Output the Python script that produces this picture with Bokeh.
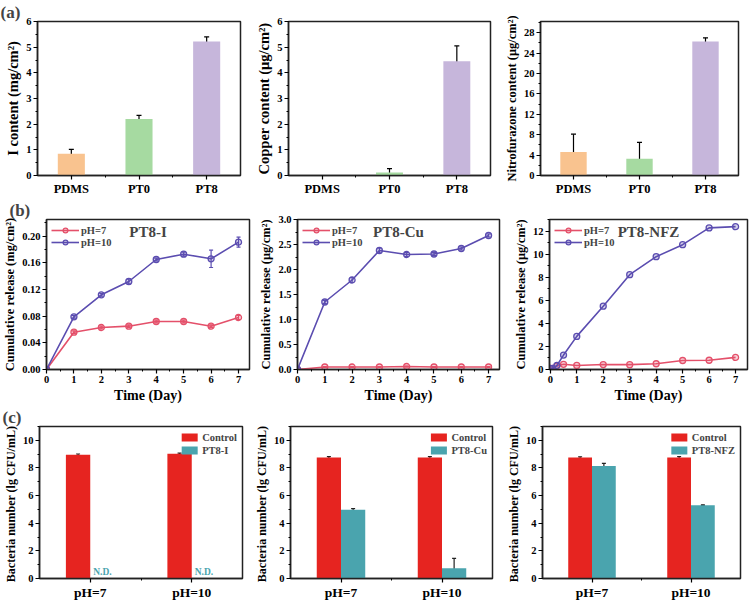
import numpy as np
from bokeh.plotting import figure
from bokeh.layouts import column, row
from bokeh.models import (Range1d, FixedTicker, Label, Whisker, TeeHead,
                          ColumnDataSource, PrintfTickFormatter)
from bokeh.embed import file_html
from bokeh.resources import INLINE

# ---------------- data (a) ----------------
samples = ["PDMS", "PT0", "PT8"]
iodine = [0.85, 2.20, 5.22]
iodine_err = [0.17, 0.14, 0.18]
copper = [0.0, 0.12, 4.45]
copper_err = [0.0, 0.15, 0.60]
nfz = [4.6, 3.3, 26.3]
nfz_err = [3.5, 3.2, 0.7]
sample_colors = ["#F9C38F", "#A6DAA1", "#C6B6DB"]

# ---------------- data (b) ----------------
days = [0, 1, 2, 3, 4, 5, 6, 7]
i_ph7 = [0, 0.056, 0.063, 0.065, 0.072, 0.072, 0.065, 0.078]
i_ph7_err = [0, 0.002, 0.002, 0.002, 0.002, 0.002, 0.002, 0.003]
i_ph10 = [0, 0.079, 0.112, 0.132, 0.165, 0.173, 0.166, 0.191]
i_ph10_err = [0, 0.002, 0.002, 0.004, 0.002, 0.003, 0.013, 0.0075]
cu_ph7 = [0, 0.05, 0.05, 0.05, 0.06, 0.05, 0.05, 0.05]
cu_ph7_err = [0, 0.01, 0.01, 0.01, 0.01, 0.01, 0.01, 0.01]
cu_ph10 = [0, 1.35, 1.79, 2.38, 2.30, 2.31, 2.42, 2.68]
cu_ph10_err = [0, 0.03, 0.05, 0.05, 0.04, 0.03, 0.03, 0.03]
nfz_days = [0, 0.083, 0.25, 0.5, 1, 2, 3, 4, 5, 6, 7]
nfz_ph7 = [0.1, 0.1, 0.3, 0.45, 0.35, 0.43, 0.42, 0.5, 0.78, 0.8, 1.05]
nfz_ph10 = [0.1, 0.1, 0.35, 1.25, 2.87, 5.49, 8.22, 9.78, 10.82, 12.27, 12.38]
series_names = ["pH=7", "pH=10"]
series_colors = ["#E4506A", "#5B4DB0"]

# ---------------- data (c) ----------------
groups = ["pH=7", "pH=10"]
ctrl_I = [8.95, 9.02]
ctrl_I_err = [0.06, 0.06]
pt8_I = [0.0, 0.0]
pt8_I_detected = [False, False]
ctrl_Cu = [8.75, 8.75]
ctrl_Cu_err = [0.07, 0.07]
pt8_Cu = [4.97, 0.75]
pt8_Cu_err = [0.08, 0.70]
ctrl_NFZ = [8.75, 8.75]
ctrl_NFZ_err = [0.06, 0.07]
pt8_NFZ = [8.15, 5.30]
pt8_NFZ_err = [0.18, 0.03]
bar_colors = ["#E62420", "#4AA4AE"]
panel_letters = ["(a)", "(b)", "(c)"]

FONT = "Liberation Serif"
FW = [203, 202, 198]
BL = [37, 46, 48]
BR = 2
FH = [154, 150, 152]
BT = [20, 20, 20]
BB = [18, 34, 20]


def base_fig(ci, ri, xr, yr):
    p = figure(frame_width=FW[ci], frame_height=FH[ri], x_range=xr, y_range=yr,
               output_backend="svg", toolbar_location=None,
               min_border_left=BL[ci], min_border_right=BR,
               min_border_top=BT[ri], min_border_bottom=BB[ri])
    p.xgrid.visible = False
    p.ygrid.visible = False
    p.outline_line_color = "#222222"
    p.outline_line_width = 1.5
    p.outline_line_alpha = 1
    for ax in (p.xaxis[0], p.yaxis[0]):
        ax.axis_line_width = 1.5
        ax.axis_line_color = "#222222"
        ax.major_tick_line_width = 1.2
        ax.minor_tick_line_width = 1
        ax.major_tick_out = 4
        ax.major_tick_in = 0
        ax.minor_tick_out = 2
        ax.minor_tick_in = 0
        ax.major_label_text_font = FONT
        ax.major_label_text_font_style = "bold"
        ax.major_label_text_font_size = "10.5px"
        ax.major_label_text_color = "black"
        ax.axis_label_text_font = FONT
        ax.axis_label_text_font_style = "bold"
        ax.axis_label_text_font_size = "14px"
        ax.axis_label_text_color = "black"
        ax.major_label_standoff = 2
        ax.axis_label_standoff = 2
    if ci == 0:
        p.title.text = panel_letters[ri]
        p.title.text_font = FONT
        p.title.text_font_style = "bold"
        p.title.text_font_size = "17px"
        p.title.align = "left"
        p.title.offset = -BL[ci]
        p.title.standoff = 0
    return p


def whiskers(p, xs, vals, errs, color, size=5):
    keep = [i for i in range(len(xs)) if errs[i] > 0]
    src = ColumnDataSource(dict(
        x=[xs[i] for i in keep],
        lower=[vals[i] - errs[i] for i in keep],
        upper=[vals[i] + errs[i] for i in keep]))
    w = Whisker(source=src, base="x", lower="lower", upper="upper",
                line_color=color, line_width=1.2,
                upper_head=TeeHead(size=size, line_color=color, line_width=1.2),
                lower_head=TeeHead(size=size, line_color=color, line_width=1.2))
    p.add_layout(w)


# ---------------- row (a) ----------------
def panel_a(ci, vals, errs, ylabel, ymax, step, minor):
    pos = [i + 1 for i in range(len(samples))]
    p = base_fig(ci, 0, Range1d(0.5, 3.5), Range1d(0, ymax))
    p.vbar(x=pos, top=vals, width=0.4, fill_color=sample_colors, line_color=None)
    whiskers(p, pos, vals, errs, "black", 5)
    p.xaxis.ticker = FixedTicker(ticks=pos, minor_ticks=[x + 0.5 for x in pos[:-1]])
    p.xaxis.major_label_overrides = {x: s for x, s in zip(pos, samples)}
    p.xaxis.major_label_text_font_size = "12.5px"
    p.yaxis.ticker = FixedTicker(ticks=list(np.arange(0, ymax + 1e-9, step)),
                                 minor_ticks=list(np.arange(0, ymax + 1e-9, minor)))
    p.yaxis.formatter = PrintfTickFormatter(format="%d")
    p.yaxis.axis_label = ylabel
    return p


a1 = panel_a(0, iodine, iodine_err, "I content (mg/cm²)", 6, 1, 0.5)
a2 = panel_a(1, copper, copper_err, "Copper content (μg/cm²)", 6, 1, 0.5)
a3 = panel_a(2, nfz, nfz_err, "Nitrofurazone content (μg/cm²)", 30.2, 4, 2)
a1.yaxis.axis_label_text_font_size = "14.5px"
a2.yaxis.axis_label_text_font_size = "14.5px"
a3.yaxis.axis_label_text_font_size = "12.5px"


# ---------------- row (b) ----------------
def panel_b(ci, xs, ys_list, errs_list, title, ymax, step, minor, fmt, ylabel):
    p = base_fig(ci, 1, Range1d(0, 7.4), Range1d(0, ymax))
    for name, col, ys, errs in zip(series_names, series_colors, ys_list, errs_list):
        p.line(xs, ys, line_color=col, line_width=1.6, legend_label=name)
        p.scatter(xs, ys, marker="circle", size=6, line_color=col, line_width=1.3,
                  fill_color=col, fill_alpha=0.25, legend_label=name)
        if errs is not None:
            whiskers(p, xs, ys, errs, col, 4)
    p.xaxis.ticker = FixedTicker(ticks=list(range(0, 8)),
                                 minor_ticks=list(np.arange(0, 7.5, 0.5)))
    p.xaxis.axis_label = "Time (Day)"
    p.yaxis.ticker = FixedTicker(ticks=list(np.arange(0, ymax + 1e-9, step)),
                                 minor_ticks=list(np.arange(0, ymax + 1e-9, minor)))
    p.yaxis.formatter = PrintfTickFormatter(format=fmt)
    p.yaxis.axis_label = ylabel
    p.yaxis.axis_label_text_font_size = "12.5px"
    lg = p.legend[0]
    lg.location = "top_left"
    lg.background_fill_alpha = 0
    lg.border_line_alpha = 0
    lg.label_text_font = FONT
    lg.label_text_font_style = "bold"
    lg.label_text_font_size = "10.5px"
    lg.glyph_width = 28
    lg.glyph_height = 12
    lg.label_height = 12
    lg.spacing = 0
    lg.padding = 2
    lg.margin = 3
    lg.label_standoff = 2
    p.add_layout(Label(x=FW[ci] / 2, y=FH[1] - 4, x_units="screen", y_units="screen",
                       text=title, text_font=FONT, text_font_style="bold",
                       text_font_size="15px", text_align="center", text_baseline="top"))
    return p


b1 = panel_b(0, days, [i_ph7, i_ph10], [i_ph7_err, i_ph10_err], "PT8-I", 0.225, 0.04, 0.02,
             "%.2f", "Cumulative release (mg/cm²)")
b2 = panel_b(1, days, [cu_ph7, cu_ph10], [cu_ph7_err, cu_ph10_err], "PT8-Cu", 3.0, 0.5, 0.25,
             "%.1f", "Cumulative release (μg/cm²)")
b3 = panel_b(2, nfz_days, [nfz_ph7, nfz_ph10], [None, None], "PT8-NFZ", 13.0, 2, 1,
             "%d", "Cumulative release (μg/cm²)")
b3.x_range = Range1d(-0.03, 7.45)


# ---------------- row (c) ----------------
def panel_c(ci, ctrl, ctrl_err, trt, trt_err, trt_name, detected=None):
    pos = [i + 1 for i in range(len(groups))]
    p = base_fig(ci, 2, Range1d(0.5, 2.5), Range1d(0, 11))
    xc = [x - 0.12 for x in pos]
    xt = [x + 0.12 for x in pos]
    p.vbar(x=xc, top=ctrl, width=0.24, fill_color=bar_colors[0], line_color=None,
           legend_label="Control")
    p.vbar(x=xt, top=trt, width=0.24, fill_color=bar_colors[1], line_color=None,
           legend_label=trt_name)
    whiskers(p, xc, ctrl, ctrl_err, "#222222", 4)
    if trt_err is not None:
        whiskers(p, xt, trt, trt_err, "#222222", 4)
    if detected is not None:
        nd_x = [xt[i] for i in range(len(pos)) if not detected[i]]
        nd_y = [trt[i] for i in range(len(pos)) if not detected[i]]
        p.text(x=nd_x, y=nd_y, text=["N.D."] * len(nd_x), text_color=bar_colors[1],
               text_font_size="9.5px", text_font_style="bold", text_align="center",
               text_baseline="bottom", y_offset=-2, text_font=FONT)
    p.xaxis.ticker = FixedTicker(ticks=pos, minor_ticks=[1.5])
    p.xaxis.major_label_overrides = {x: g for x, g in zip(pos, groups)}
    p.xaxis.major_label_text_font_size = "13.5px"
    p.yaxis.ticker = FixedTicker(ticks=list(range(0, 11, 2)), minor_ticks=list(range(0, 12)))
    p.yaxis.formatter = PrintfTickFormatter(format="%d")
    p.yaxis.axis_label = "Bacteria number  (lg CFU/mL)"
    p.yaxis.axis_label_text_font_size = "12px"
    lg = p.legend[0]
    lg.location = "top_right"
    lg.background_fill_alpha = 0
    lg.border_line_alpha = 0
    lg.label_text_font = FONT
    lg.label_text_font_style = "bold"
    lg.label_text_font_size = "10.5px"
    lg.glyph_width = 20
    lg.glyph_height = 10
    lg.label_height = 12
    lg.spacing = 1
    lg.padding = 2
    lg.margin = 3
    lg.label_standoff = 3
    return p


c1 = panel_c(0, ctrl_I, ctrl_I_err, pt8_I, None, "PT8-I", pt8_I_detected)
c2 = panel_c(1, ctrl_Cu, ctrl_Cu_err, pt8_Cu, pt8_Cu_err, "PT8-Cu")
c3 = panel_c(2, ctrl_NFZ, ctrl_NFZ_err, pt8_NFZ, pt8_NFZ_err, "PT8-NFZ")

layout = column(row(a1, a2, a3, spacing=0), row(b1, b2, b3, spacing=0),
                row(c1, c2, c3, spacing=0), spacing=0)

open("out.html", "w").write(file_html(layout, INLINE))
